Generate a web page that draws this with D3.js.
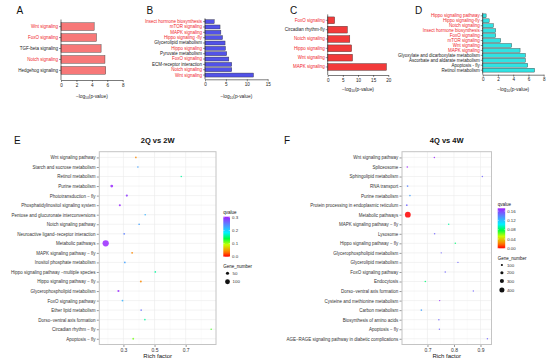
<!DOCTYPE html>
<html>
<head>
<meta charset="utf-8">
<script src="https://cdn.jsdelivr.net/npm/d3@7"></script>
<style>
  body { margin: 0; background: #fff; }
</style>
</head>
<body>
<script>
// ---- bar panels (A-D): -log10(p-value) per pathway, top to bottom ----
const aTerms = ["Wnt signaling", "FoxO signaling", "TGF-beta signaling", "Notch signaling", "Hedgehog signaling"];
const aValues = [4.3, 4.6, 5.2, 5.7, 5.8];
const aHighlight = ["Wnt signaling", "FoxO signaling", "Notch signaling"];

const bTerms = ["Insect hormone biosynthesis", "mTOR signaling", "MAPK signaling", "Hippo signaling -fly",
  "Glycerolipid metabolism", "Hippo signaling", "Pyruvate metabolism", "FoxO signaling",
  "ECM-receptor interaction", "Notch signaling", "Wnt signaling"];
const bValues = [2.2, 3.6, 3.8, 4.2, 4.8, 4.9, 5.2, 5.7, 6.4, 6.4, 11.6];
const bHighlight = ["Insect hormone biosynthesis", "mTOR signaling", "MAPK signaling", "Hippo signaling -fly",
  "Hippo signaling", "FoxO signaling", "Notch signaling", "Wnt signaling"];

const cTerms = ["FoxO signaling", "Circadian rhythm-fly", "Notch signaling", "Hippo signaling", "Wnt signaling", "MAPK signaling"];
const cValues = [2.3, 6.5, 7.3, 7.9, 8.2, 19.4];
const cHighlight = ["FoxO signaling", "Notch signaling", "Hippo signaling", "Wnt signaling", "MAPK signaling"];

const dTerms = ["Hippo signaling pathway", "Hippo signaling-fly", "Notch signaling", "Insect hormone biosynthesis",
  "FoxO signaling", "mTOR signaling", "Wnt signaling", "MAPK signaling",
  "Glyoxylate and dicarboxylate metabolism", "Ascorbate and aldarate metabolism", "Apoptosis - fly", "Retinol metabolism"];
const dValues = [0.45, 0.85, 1.4, 1.7, 1.7, 2.35, 3.8, 4.9, 5.6, 5.6, 5.9, 6.8];
const dHighlight = ["Hippo signaling pathway", "Hippo signaling-fly", "Notch signaling", "Insect hormone biosynthesis",
  "FoxO signaling", "mTOR signaling", "Wnt signaling", "MAPK signaling"];

// ---- bubble panels (E, F) ----
const eTerms = ["Wnt signaling pathway", "Starch and sucrose metabolism", "Retinol metabolism", "Purine metabolism",
  "Phototransduction − fly", "Phosphatidylinositol signaling system", "Pentose and glucuronate interconversions",
  "Notch signaling pathway", "Neuroactive ligand−receptor interaction", "Metabolic pathways",
  "MAPK signaling pathway − fly", "Inositol phosphate metabolism", "Hippo signaling pathway −multiple species",
  "Hippo signaling pathway − fly", "Glycerophospholipid metabolism", "FoxO signaling pathway",
  "Ether lipid metabolism", "Dorso−ventral axis formation", "Circadian rhythm − fly", "Apoptosis − fly"];
const eRich = [0.38, 0.393, 0.672, 0.225, 0.322, 0.277, 0.44, 0.401, 0.305, 0.186,
  0.356, 0.309, 0.505, 0.412, 0.268, 0.294, 0.414, 0.438, 0.864, 0.363];
const eQ = [0.04, 0.23, 0.16, 0.3, 0.29, 0.3, 0.22, 0.23, 0.25, 0.3,
  0.04, 0.23, 0.16, 0.04, 0.3, 0.22, 0.26, 0.16, 0.12, 0.11];
const eGenes = [8, 6, 5, 40, 22, 18, 6, 8, 12, 140, 14, 10, 8, 16, 20, 12, 6, 7, 5, 12];
const eQTicks = [0, 0.1, 0.2, 0.3];
const eSizeBreaks = [50, 100];

const fTerms = ["Wnt signaling pathway", "Spliceosome", "Sphingolipid metabolism", "RNA transport", "Purine metabolism",
  "Protein processing in endoplasmic reticulum", "Metabolic pathways", "MAPK signaling pathway − fly", "Lysosome",
  "Hippo signaling pathway − fly", "Glycerophospholipid metabolism", "Glycerolipid metabolism", "FoxO signaling pathway",
  "Endocytosis", "Dorso−ventral axis formation", "Cysteine and methionine metabolism", "Carbon metabolism",
  "Biosynthesis of amino acids", "Apoptosis − fly", "AGE−RAGE signaling pathway in diabetic complications"];
const fRich = [0.726, 0.624, 0.907, 0.625, 0.634, 0.622, 0.626, 0.78, 0.727, 0.805,
  0.752, 0.815, 0.767, 0.692, 0.873, 0.746, 0.677, 0.743, 0.745, 0.926];
const fQ = [0.17, 0.17, 0.15, 0.14, 0.13, 0.15, 0.0, 0.09, 0.15, 0.085,
  0.15, 0.15, 0.15, 0.085, 0.15, 0.17, 0.13, 0.15, 0.15, 0.15];
const fGenes = [30, 40, 20, 50, 45, 55, 480, 30, 35, 35, 25, 20, 30, 45, 20, 25, 45, 30, 20, 25];
const fQTicks = [0, 0.04, 0.08, 0.12, 0.16];
const fSizeBreaks = [100, 200, 300, 400];

const FONT = "'Liberation Sans', Arial, sans-serif";
const RED = "#f0242a";

const svg = d3.select("body").append("svg")
  .attr("width", 550).attr("height", 363)
  .style("font-family", FONT);

function letter(t, x, y) {
  svg.append("text").attr("x", x).attr("y", y).attr("font-size", 10).attr("fill", "#111").text(t);
}

function drawBars(c) {
  const g = svg.append("g");
  const x = d3.scaleLinear().domain([0, c.max]).range([c.x0, c.x1]);
  const y = d3.scaleBand().domain(c.terms).range([c.top, c.bottom]).padding(c.pad);

  g.selectAll("rect").data(c.terms).join("rect")
    .attr("x", x(0))
    .attr("y", d => y(d))
    .attr("width", (d, i) => x(c.values[i]) - x(0))
    .attr("height", y.bandwidth())
    .attr("fill", c.fill)
    .attr("stroke", "#333")
    .attr("stroke-width", 0.4);

  const ya = g.append("g")
    .attr("transform", `translate(${c.x0},0)`)
    .call(d3.axisLeft(y).tickSize(2).tickSizeOuter(0).tickPadding(1));
  ya.attr("font-family", FONT).attr("font-size", 4.5);
  ya.select(".domain").remove();
  ya.selectAll("line").attr("stroke", "#222").attr("stroke-width", 0.5);
  ya.selectAll("text").attr("fill", d => c.hi.includes(d) ? RED : "#222");
  g.append("line")
    .attr("x1", c.x0).attr("x2", c.x0)
    .attr("y1", c.top).attr("y2", c.axisY)
    .attr("stroke", "#222").attr("stroke-width", 0.6);

  const xa = g.append("g")
    .attr("transform", `translate(0,${c.axisY})`)
    .call(d3.axisBottom(x).tickValues(c.ticks).tickSize(2).tickSizeOuter(0).tickPadding(1.5));
  xa.attr("font-family", FONT).attr("font-size", 4.6);
  xa.select(".domain").attr("stroke", "#222").attr("stroke-width", 0.6);
  xa.selectAll("line").attr("stroke", "#222").attr("stroke-width", 0.5);
  xa.selectAll("text").attr("fill", "#222");

  const t = g.append("text")
    .attr("x", (c.x0 + c.x1) / 2).attr("y", c.titleY)
    .attr("text-anchor", "middle").attr("font-size", 4.8).attr("fill", "#222");
  t.append("tspan").text("−log");
  t.append("tspan").attr("font-size", 3.4).attr("dy", 1.2).text("10");
  t.append("tspan").attr("dy", -1.2).text("(p-value)");
}

const rainbowAt = d3.scaleLinear()
  .domain([0, 0.12, 0.3, 0.45, 0.6, 0.78, 1])
  .range(["#ff0000", "#ff8000", "#c8ff00", "#00ff40", "#00f0ff", "#4d94ff", "#a020ff"])
  .clamp(true);

function drawBubbles(c) {
  const g = svg.append("g");
  const x = d3.scaleLinear().domain(c.xDom).range([c.L, c.R]);
  const y = d3.scalePoint().domain(c.terms).range([c.T, c.B]).padding(0.6);
  const col = q => rainbowAt(q / c.qTop);
  const r = d3.scaleLinear().domain([0, c.nMax]).range(c.rRange);

  g.append("rect").attr("x", c.L).attr("y", c.T).attr("width", c.R - c.L).attr("height", c.B - c.T).attr("fill", "#fff");

  g.selectAll("line.minor").data(c.minor).join("line")
    .attr("x1", d => x(d)).attr("x2", d => x(d)).attr("y1", c.T).attr("y2", c.B)
    .attr("stroke", "#f4f4f4").attr("stroke-width", 0.4);
  g.selectAll("line.vmaj").data(c.ticks).join("line")
    .attr("x1", d => x(d)).attr("x2", d => x(d)).attr("y1", c.T).attr("y2", c.B)
    .attr("stroke", "#ebebeb").attr("stroke-width", 0.6);
  g.selectAll("line.hmaj").data(c.terms).join("line")
    .attr("x1", c.L).attr("x2", c.R).attr("y1", d => y(d)).attr("y2", d => y(d))
    .attr("stroke", "#ebebeb").attr("stroke-width", 0.6);

  const pts = c.terms.map((d, i) => ({ term: d, rich: c.rich[i], q: c.q[i], n: c.genes[i] }))
    .sort((a, b) => b.n - a.n);
  g.selectAll("circle.pt").data(pts).join("circle")
    .attr("cx", d => x(d.rich)).attr("cy", d => y(d.term)).attr("r", d => r(d.n))
    .attr("fill", d => col(d.q)).attr("fill-opacity", 0.85);

  g.append("rect").attr("x", c.L).attr("y", c.T).attr("width", c.R - c.L).attr("height", c.B - c.T)
    .attr("fill", "none").attr("stroke", "#c4c4c4").attr("stroke-width", 1);

  const ya = g.append("g").attr("transform", `translate(${c.L - 0.5},0)`)
    .call(d3.axisLeft(y).tickSize(2).tickPadding(1.2));
  ya.attr("font-family", FONT).attr("font-size", 4.5);
  ya.select(".domain").remove();
  ya.selectAll("line").attr("stroke", "#333").attr("stroke-width", 0.5);
  ya.selectAll("text").attr("fill", "#333");

  const xa = g.append("g").attr("transform", `translate(0,${c.B + 0.5})`)
    .call(d3.axisBottom(x).tickValues(c.ticks).tickFormat(d3.format(".1f")).tickSize(2).tickPadding(1.5));
  xa.attr("font-family", FONT).attr("font-size", 5);
  xa.select(".domain").remove();
  xa.selectAll("line").attr("stroke", "#333").attr("stroke-width", 0.5);
  xa.selectAll("text").attr("fill", "#333");

  g.append("text").attr("x", (c.L + c.R) / 2).attr("y", c.B + 13)
    .attr("text-anchor", "middle").attr("font-size", 6).attr("fill", "#111").text("Rich factor");
  g.append("text").attr("x", (c.L + c.R) / 2).attr("y", 142.5)
    .attr("text-anchor", "middle").attr("font-size", 7.5).attr("font-weight", "bold").attr("fill", "#111").text(c.title);

  // qvalue colour bar
  const lg = c.legend;
  const qy = d3.scaleLinear().domain([0, c.qTop]).range([lg.barBottom, lg.barTop]);
  const gradId = "grad" + c.title.replace(/\W/g, "");
  const grad = svg.append("defs").append("linearGradient").attr("id", gradId)
    .attr("x1", 0).attr("x2", 0).attr("y1", 1).attr("y2", 0);
  d3.range(0, 1.0001, 0.05).forEach(t => grad.append("stop").attr("offset", t).attr("stop-color", rainbowAt(t)));
  g.append("text").attr("x", lg.x).attr("y", lg.barTop - 2.8).attr("font-size", 4.5).attr("fill", "#111").text("qvalue");
  g.append("rect").attr("x", lg.x).attr("y", lg.barTop).attr("width", lg.barW).attr("height", lg.barBottom - lg.barTop)
    .attr("fill", `url(#${gradId})`);
  g.selectAll("line.qt").data(c.qTicks).join("line")
    .attr("x1", lg.x).attr("x2", lg.x + 1.3).attr("y1", d => qy(d)).attr("y2", d => qy(d))
    .attr("stroke", "#fff").attr("stroke-width", 0.4);
  g.selectAll("line.qt2").data(c.qTicks).join("line")
    .attr("x1", lg.x + lg.barW - 1.3).attr("x2", lg.x + lg.barW).attr("y1", d => qy(d)).attr("y2", d => qy(d))
    .attr("stroke", "#fff").attr("stroke-width", 0.4);
  g.selectAll("text.qt").data(c.qTicks).join("text")
    .attr("x", lg.x + lg.barW + 2).attr("y", d => qy(d) + 1.6)
    .attr("font-size", 4.4).attr("fill", "#333").text(d3.format(c.qFmt));

  // Gene_number size legend
  g.append("text").attr("x", lg.x).attr("y", lg.sizeTitleY).attr("font-size", 4.5).attr("fill", "#111").text("Gene_number");
  g.selectAll("circle.sz").data(c.sizeBreaks).join("circle")
    .attr("cx", lg.x + 4.2).attr("cy", (d, i) => lg.sizeY[i]).attr("r", d => r(d)).attr("fill", "#111");
  g.selectAll("text.sz").data(c.sizeBreaks).join("text")
    .attr("x", lg.x + 9.2).attr("y", (d, i) => lg.sizeY[i] + 1.6)
    .attr("font-size", 4.4).attr("fill", "#333").text(d => d);
}

letter("A", 16.5, 13.5);
letter("B", 146.5, 13.5);
letter("C", 290, 13.5);
letter("D", 415, 13.5);
letter("E", 14, 143.5);
letter("F", 284, 143.5);

drawBars({ terms: aTerms, values: aValues, hi: aHighlight, max: 8, ticks: [0, 2, 4, 6, 8],
  x0: 61, x1: 122.7, top: 19.5, bottom: 77.5, pad: 0.3, axisY: 80, titleY: 97.5, fill: "#f77878" });
drawBars({ terms: bTerms, values: bValues, hi: bHighlight, max: 15, ticks: [0, 5, 10, 15],
  x0: 205, x1: 267.7, top: 18.3, bottom: 78.4, pad: 0.25, axisY: 79.3, titleY: 97.5, fill: "#5252e8" });
drawBars({ terms: cTerms, values: cValues, hi: cHighlight, max: 20, ticks: [0, 5, 10, 15, 20],
  x0: 327.7, x1: 388.3, top: 14.4, bottom: 72.9, pad: 0.27, axisY: 75, titleY: 91.2, fill: "#f23a3a" });
drawBars({ terms: dTerms, values: dValues, hi: dHighlight, max: 8, ticks: [0, 2, 4, 6, 8],
  x0: 482.7, x1: 543.7, top: 12.8, bottom: 73.2, pad: 0.22, axisY: 74.7, titleY: 91, fill: "#30e3e3" });

drawBubbles({ title: "2Q vs 2W", terms: eTerms, rich: eRich, q: eQ, genes: eGenes,
  L: 99.3, R: 216, T: 151.7, B: 344.5, xDom: [0.145, 0.895],
  ticks: [0.3, 0.5, 0.7], minor: [0.2, 0.4, 0.6, 0.8],
  qTop: 0.305, qTicks: eQTicks, qFmt: ".1f", nMax: 150, rRange: [0.7, 3.3], sizeBreaks: eSizeBreaks,
  legend: { x: 223.3, barW: 6.7, barTop: 216.7, barBottom: 256.7, sizeTitleY: 267.8, sizeY: [273.3, 281.7] } });

drawBubbles({ title: "4Q vs 4W", terms: fTerms, rich: fRich, q: fQ, genes: fGenes,
  L: 402, R: 491.5, T: 151.7, B: 344.5, xDom: [0.604, 0.9415],
  ticks: [0.7, 0.8, 0.9], minor: [0.65, 0.75, 0.85],
  qTop: 0.172, qTicks: fQTicks, qFmt: ".2f", nMax: 500, rRange: [0.6, 3.0], sizeBreaks: fSizeBreaks,
  legend: { x: 497.7, barW: 7.5, barTop: 208.3, barBottom: 248.3, sizeTitleY: 259.8, sizeY: [265, 272.7, 281, 290] } });
</script>
</body>
</html>
